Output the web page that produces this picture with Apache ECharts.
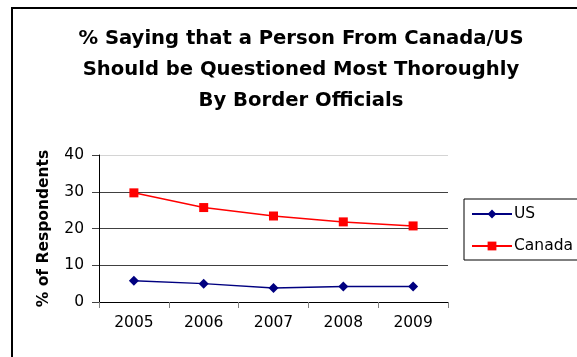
<!DOCTYPE html>
<html><head><meta charset="utf-8">
<script src="https://cdn.jsdelivr.net/npm/echarts@6/dist/echarts.min.js"></script>
<style>html,body{margin:0;padding:0;background:#fff;}#c{width:577px;height:357px;}</style>
</head><body><div id="c"></div>
<script>
const years = ['2005','2006','2007','2008','2009'];
const usValues = [5.8, 5.0, 3.8, 4.2, 4.2];
const canadaValues = [29.7, 25.7, 23.4, 21.8, 20.7];
const yTicks = [0, 10, 20, 30, 40];
const titleText = '% Saying that a Person From Canada/US\nShould be Questioned Most Thoroughly\nBy Border Officials';

const chart = echarts.init(document.getElementById('c'), null, {renderer:'canvas'});
chart.setOption({
  backgroundColor: '#fff',
  animation: false,
  title: {
    text: titleText,
    left: 296, top: 18, textAlign: 'center',
    textStyle: {fontFamily: 'DejaVu Sans', fontWeight: 'bold', fontSize: 19.6, lineHeight: 31, color: '#000'}
  },
  graphic: [{
    type: 'rect', shape: {x: 12, y: 8, width: 620, height: 400},
    style: {fill: 'none', stroke: '#000', lineWidth: 2}, silent: true, z: -1
  }],
  legend: {
    data: ['US','Canada'], orient: 'vertical', left: 464, top: 199,
    width: 140, padding: [7, 30, 6, 7], itemGap: 16,
    borderColor: '#000', borderWidth: 1,
    itemWidth: 40, itemHeight: 11,
    textStyle: {fontFamily: 'DejaVu Sans', fontSize: 15.5, color: '#000', padding: [0,0,0,-3]}
  },
  grid: {left: 99, right: 129, top: 155, bottom: 55},
  xAxis: {
    type: 'category', data: years, boundaryGap: true,
    axisLine: {lineStyle: {color: '#000', width: 1}},
    axisTick: {show: true, length: 6, lineStyle: {color: '#808080'}},
    axisLabel: {fontFamily: 'DejaVu Sans', fontSize: 15.5, color: '#000', margin: 13}
  },
  yAxis: {
    type: 'value', min: 0, max: 40, interval: 10,
    name: '% of Respondents', nameLocation: 'middle', nameGap: 47,
    nameTextStyle: {fontFamily: 'DejaVu Sans', fontWeight: 'bold', fontSize: 15.5, color: '#000'},
    axisLine: {show: true, lineStyle: {color: '#000'}},
    axisTick: {show: true, length: 7, lineStyle: {color: '#404040'}},
    axisLabel: {fontFamily: 'DejaVu Sans', fontSize: 15.5, color: '#000', margin: 15,
      formatter: v => yTicks.includes(v) ? String(v) : ''},
    splitLine: {lineStyle: {color: ['#404040','#404040','#404040','#404040','#d4d4d4'], width: 1}}
  },
  series: [{
    name: 'US', type: 'line', data: usValues,
    symbol: 'diamond', symbolSize: 10,
    itemStyle: {color: '#000080'}, lineStyle: {color: '#000080', width: 1.5}
  },{
    name: 'Canada', type: 'line', data: canadaValues,
    symbol: 'rect', symbolSize: 9,
    itemStyle: {color: '#ff0000'}, lineStyle: {color: '#ff0000', width: 1.5}
  }]
});
</script></body></html>
